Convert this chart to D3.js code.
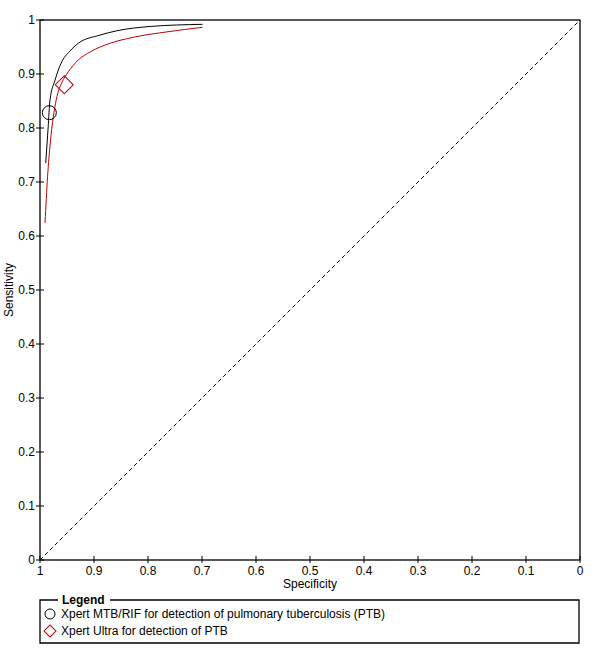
<!DOCTYPE html>
<html lang="en">
<head>
<meta charset="utf-8">
<title>SROC plot</title>
<script src="https://d3js.org/d3.v7.min.js" charset="utf-8"></script>
<style>
  body { margin: 0; background: #fff; }
  svg { font-family: "Liberation Sans", Arial, sans-serif; font-size: 12px; }
</style>
</head>
<body>
<div id="vis-container"></div>
<script>
// summary curves (specificity, sensitivity)
var mtbSpec = [0.9894, 0.985, 0.9815, 0.972, 0.961, 0.945, 0.929, 0.889, 0.858, 0.796, 0.699];
var mtbSens = [0.735, 0.800, 0.852, 0.889, 0.920, 0.942, 0.957, 0.972, 0.980, 0.988, 0.992];
var ultraSpec = [0.9907, 0.986, 0.981, 0.970, 0.960, 0.9475, 0.929, 0.907, 0.870, 0.827, 0.765, 0.699];
var ultraSens = [0.624, 0.710, 0.772, 0.852, 0.883, 0.904, 0.926, 0.941, 0.957, 0.968, 0.978, 0.9865];
// summary points
var pointNames = ["Xpert MTB/RIF for detection of pulmonary tuberculosis (PTB)", "Xpert Ultra for detection of PTB"];
var pointSpec = [0.9827, 0.955];
var pointSens = [0.8284, 0.880];
var tickValues = [1, 0.9, 0.8, 0.7, 0.6, 0.5, 0.4, 0.3, 0.2, 0.1, 0];

var red = "#c00000";
var margin = { top: 20, left: 40 }, size = 540;

var svg = d3.select("#vis-container").append("svg")
    .attr("width", 600).attr("height", 664);
var canvas = svg.append("g")
    .attr("transform", "translate(" + margin.left + "," + margin.top + ")");

var xScale = d3.scaleLinear().domain([1, 0]).range([0, size]);
var yScale = d3.scaleLinear().domain([0, 1]).range([size, 0]);

// frame
canvas.append("rect")
    .attr("x", 0).attr("y", 0).attr("width", size).attr("height", size)
    .attr("fill", "none").attr("stroke", "#000").attr("stroke-width", 1.3);

// diagonal
canvas.append("line")
    .attr("x1", xScale(1)).attr("y1", yScale(0))
    .attr("x2", xScale(0)).attr("y2", yScale(1))
    .attr("stroke", "#000").attr("stroke-dasharray", "4,3");

// x ticks (crossing the axis)
var xt = canvas.append("g").attr("transform", "translate(0," + size + ")");
xt.selectAll("line").data(tickValues).enter().append("line")
    .attr("x1", function(d) { return xScale(d); }).attr("x2", function(d) { return xScale(d); })
    .attr("y1", -4).attr("y2", 3).attr("stroke", "#000");
xt.selectAll("text").data(tickValues).enter().append("text")
    .attr("x", function(d) { return xScale(d); }).attr("y", 15)
    .attr("text-anchor", "middle").text(function(d) { return d; });

// y ticks
var yt = canvas.append("g");
yt.selectAll("line").data(tickValues).enter().append("line")
    .attr("y1", function(d) { return yScale(d); }).attr("y2", function(d) { return yScale(d); })
    .attr("x1", -4).attr("x2", 4).attr("stroke", "#000");
yt.selectAll("text").data(tickValues).enter().append("text")
    .attr("x", -5).attr("y", function(d) { return yScale(d) + 4; })
    .attr("text-anchor", "end").text(function(d) { return d; });

// axis labels
svg.append("text").attr("x", 310).attr("y", 588).attr("text-anchor", "middle").text("Specificity");
svg.append("text").attr("transform", "translate(13,290) rotate(-90)")
    .attr("text-anchor", "middle").text("Sensitivity");

// curves
var line = d3.line()
    .x(function(d) { return xScale(d[0]); })
    .y(function(d) { return yScale(d[1]); })
    .curve(d3.curveMonotoneX);
canvas.append("path").datum(d3.zip(mtbSpec, mtbSens))
    .attr("d", line).attr("fill", "none").attr("stroke", "#000");
canvas.append("path").datum(d3.zip(ultraSpec, ultraSens))
    .attr("d", line).attr("fill", "none").attr("stroke", red);

// summary points
canvas.append("circle")
    .attr("cx", xScale(pointSpec[0])).attr("cy", yScale(pointSens[0])).attr("r", 7)
    .attr("fill", "none").attr("stroke", "#000");
var diamond = d3.symbol().type(d3.symbolSquare).size(162);
canvas.append("path")
    .attr("d", diamond)
    .attr("transform", "translate(" + xScale(pointSpec[1]) + "," + yScale(pointSens[1]) + ") rotate(45)")
    .attr("fill", "none").attr("stroke", red);

// legend
var lg = svg.append("g");
lg.append("path")
    .attr("d", "M58,600 H40 V643 H579 V600 H110")
    .attr("fill", "none").attr("stroke", "#000").attr("stroke-width", 1.3);
lg.append("text").attr("x", 62).attr("y", 604).attr("font-weight", "bold").text("Legend");
lg.append("circle").attr("cx", 50).attr("cy", 614).attr("r", 5)
    .attr("fill", "none").attr("stroke", "#000");
lg.append("path").attr("d", d3.symbol().type(d3.symbolSquare).size(72))
    .attr("transform", "translate(50,631) rotate(45)")
    .attr("fill", "none").attr("stroke", red);
lg.selectAll("text.item").data(pointNames).enter().append("text")
    .attr("class", "item")
    .attr("x", 61).attr("y", function(d, i) { return 618 + i * 17; })
    .text(function(d) { return d; });
</script>
</body>
</html>
